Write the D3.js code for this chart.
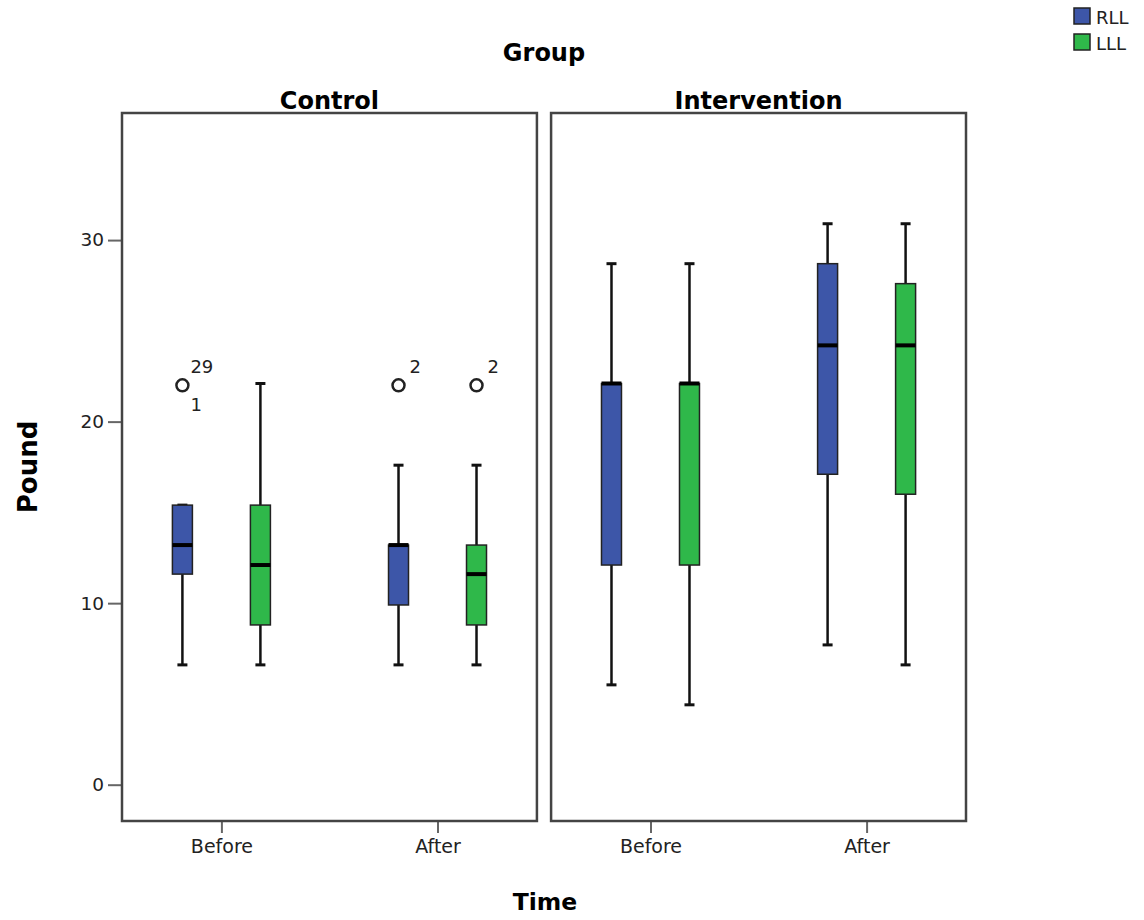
<!DOCTYPE html>
<html><head><meta charset="utf-8">
<script src="https://cdn.jsdelivr.net/npm/d3@7/dist/d3.min.js"></script>
<style>body{margin:0;background:#fff}svg{display:block}text{font-family:"DejaVu Sans",Verdana,sans-serif}</style>
</head><body><svg id="c" width="1144" height="920"></svg>
<script>
const groups = ["Control", "Intervention"];
const times = ["Before", "After"];
const series = ["RLL", "LLL"];
const colors = ["#3d56a8", "#2fb84a"];
const yTicks = [0, 10, 20, 30];
// [group, time, series, lowWhisker, q1, median, q3, highWhisker]
const boxes = [
  ["Control", "Before", "RLL", 6.6, 11.6, 13.2, 15.4, 15.4],
  ["Control", "Before", "LLL", 6.6, 8.8, 12.1, 15.4, 22.1],
  ["Control", "After", "RLL", 6.6, 9.9, 13.2, 13.2, 17.6],
  ["Control", "After", "LLL", 6.6, 8.8, 11.6, 13.2, 17.6],
  ["Intervention", "Before", "RLL", 5.5, 12.1, 22.1, 22.1, 28.7],
  ["Intervention", "Before", "LLL", 4.4, 12.1, 22.1, 22.1, 28.7],
  ["Intervention", "After", "RLL", 7.7, 17.1, 24.2, 28.7, 30.9],
  ["Intervention", "After", "LLL", 6.6, 16.0, 24.2, 27.6, 30.9]
];
// outliers: [group, time, series, value, labelAbove, labelBelow]
const outliers = [
  ["Control", "Before", "RLL", 22.0, "29", "1"],
  ["Control", "After", "RLL", 22.0, "2", ""],
  ["Control", "After", "LLL", 22.0, "2", ""]
];

const FONT = "'DejaVu Sans', Verdana, sans-serif";
const svg = d3.select("#c");
const plotTop = 113, plotBottom = 821;
const panelX = d3.scaleBand().domain(groups).range([122, 966]).paddingInner(0.033);
const y = d3.scaleLinear().domain([-2, 37]).range([plotBottom, plotTop]);

function timeScale(g) {
  const x0 = panelX(g), w = panelX.bandwidth();
  return d3.scalePoint().domain(times).range([x0, x0 + w]).padding(0.46);
}
const sub = d3.scalePoint().domain(series).range([-39, 39]);

// Titles
svg.append("text").attr("x", 544).attr("y", 61).attr("text-anchor", "middle")
  .attr("font-size", 24).attr("font-weight", "bold").text("Group");
svg.append("text").attr("x", 545).attr("y", 910).attr("text-anchor", "middle")
  .attr("font-size", 23.5).attr("font-weight", "bold").text("Time");
svg.append("text").attr("transform", "translate(37,467) rotate(-90)").attr("text-anchor", "middle")
  .attr("font-size", 26).attr("font-weight", "bold").text("Pound");

// Y axis
const yAxis = svg.append("g").attr("transform", "translate(122,0)")
  .call(d3.axisLeft(y).tickValues(yTicks).tickSize(14).tickPadding(4));
yAxis.select(".domain").remove();
yAxis.selectAll(".tick line").attr("stroke", "#666").attr("stroke-width", 2);
yAxis.selectAll(".tick text").attr("font-size", 18.5).attr("fill", "#222").style("font-family", FONT);

groups.forEach(g => {
  const x0 = panelX(g), w = panelX.bandwidth();
  const xt = timeScale(g);
  svg.append("text").attr("x", x0 + w / 2).attr("y", 109).attr("text-anchor", "middle")
    .attr("font-size", 24).attr("font-weight", "bold").text(g);
  const xAxis = svg.append("g").attr("transform", `translate(0,${plotBottom})`)
    .call(d3.axisBottom(xt).tickSize(12).tickPadding(7));
  xAxis.select(".domain").remove();
  xAxis.selectAll(".tick line").attr("stroke", "#666").attr("stroke-width", 2);
  xAxis.selectAll(".tick text").attr("font-size", 19).attr("fill", "#222").style("font-family", FONT);
  svg.append("rect").attr("x", x0).attr("y", plotTop).attr("width", w).attr("height", plotBottom - plotTop)
    .attr("fill", "none").attr("stroke", "#444").attr("stroke-width", 2.5);
});

const bw = 20, capW = 10;
boxes.forEach(([g, t, s, lo, q1, med, q3, hi]) => {
  const cx = timeScale(g)(t) + sub(s);
  const c = colors[series.indexOf(s)];
  const gg = svg.append("g");
  gg.append("line").attr("x1", cx).attr("x2", cx).attr("y1", y(lo)).attr("y2", y(q1))
    .attr("stroke", "#111").attr("stroke-width", 2.5);
  gg.append("line").attr("x1", cx).attr("x2", cx).attr("y1", y(q3)).attr("y2", y(hi))
    .attr("stroke", "#111").attr("stroke-width", 2.5);
  [lo, hi].forEach(v => gg.append("line").attr("x1", cx - capW / 2).attr("x2", cx + capW / 2)
    .attr("y1", y(v)).attr("y2", y(v)).attr("stroke", "#111").attr("stroke-width", 3));
  gg.append("rect").attr("x", cx - bw / 2).attr("y", y(q3)).attr("width", bw)
    .attr("height", Math.max(0, y(q1) - y(q3))).attr("fill", c)
    .attr("stroke", "#222").attr("stroke-width", 1.5);
  gg.append("line").attr("x1", cx - bw / 2).attr("x2", cx + bw / 2).attr("y1", y(med)).attr("y2", y(med))
    .attr("stroke", "#000").attr("stroke-width", 4);
});

outliers.forEach(([g, t, s, v, la, lb]) => {
  const cx = timeScale(g)(t) + sub(s);
  svg.append("circle").attr("cx", cx).attr("cy", y(v)).attr("r", 6)
    .attr("fill", "none").attr("stroke", "#222").attr("stroke-width", 2.5);
  if (la) svg.append("text").attr("x", cx + (lb ? 8 : 11)).attr("y", y(v) - 12)
    .attr("font-size", 18).attr("fill", "#222").text(la);
  if (lb) svg.append("text").attr("x", cx + 8).attr("y", y(v) + 26)
    .attr("font-size", 18).attr("fill", "#222").text(lb);
});

// Legend
series.forEach((s, i) => {
  svg.append("rect").attr("x", 1074).attr("y", 8 + i * 26).attr("width", 16).attr("height", 16)
    .attr("fill", colors[i]).attr("stroke", "#222").attr("stroke-width", 1.5);
  svg.append("text").attr("x", 1096).attr("y", 24 + i * 26).attr("font-size", 18).attr("fill", "#222").text(s);
});
</script></body></html>
